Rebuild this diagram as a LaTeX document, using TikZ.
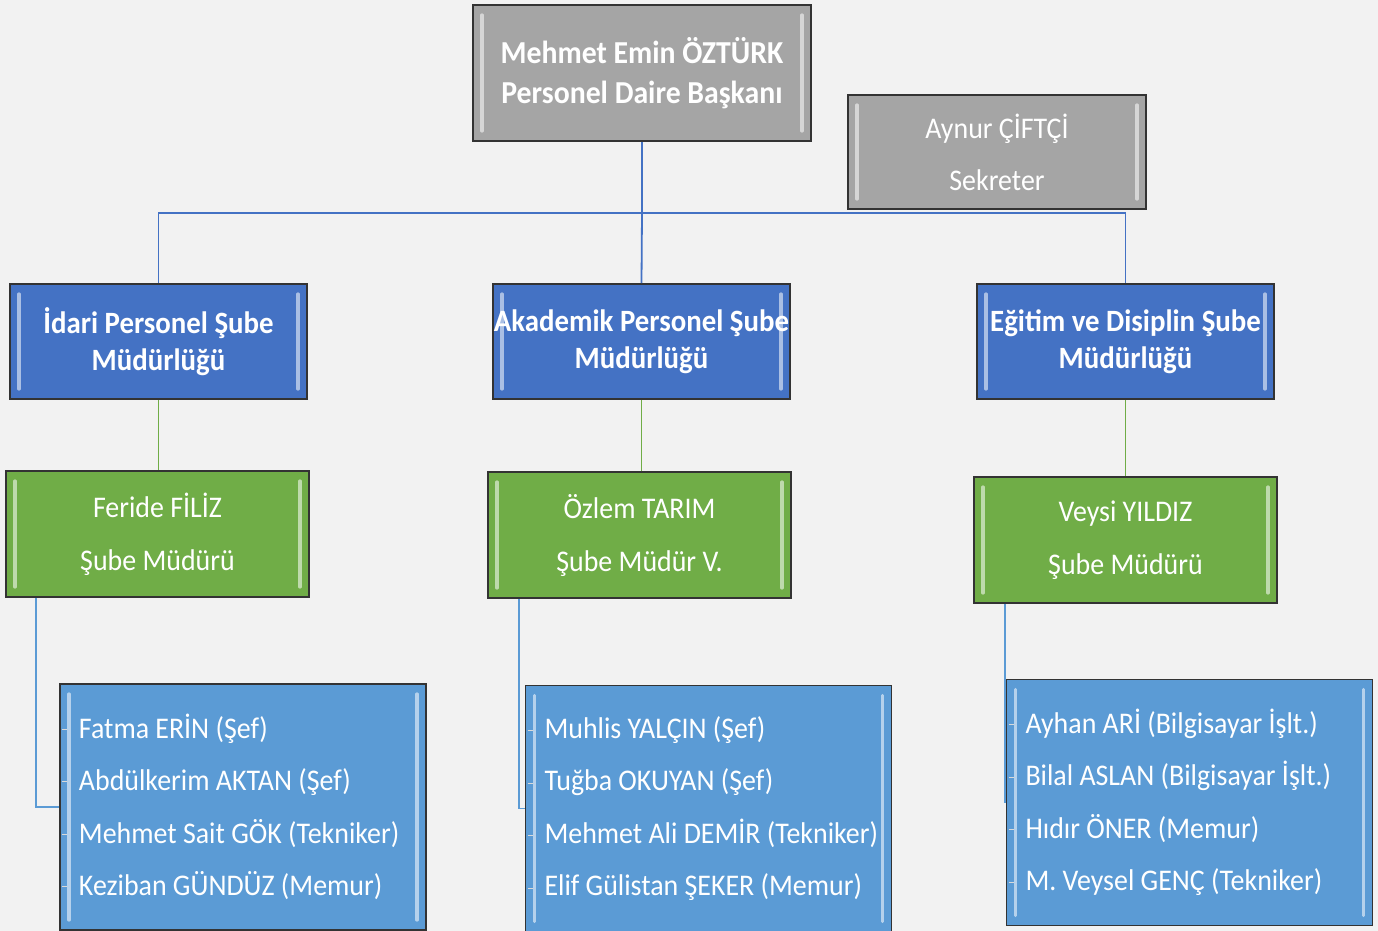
\documentclass[tikz,border=0pt]{standalone}
\usepackage{fontspec}
\setmainfont{Carlito}[FakeStretch=0.93]

\definecolor{zemin}{HTML}{F2F2F2}
\definecolor{gri}{HTML}{A5A5A5}
\definecolor{mavi}{HTML}{4472C4}
\definecolor{yesil}{HTML}{70AD47}
\definecolor{acikmavi}{HTML}{5B9BD5}

\begin{document}
\begin{tikzpicture}[x=0.5pt,y=-0.5pt,
  kutu/.style={draw=black!80,line width=0.9pt,inner sep=0pt,text=white,align=flush center,
    path picture={
      \draw[white,opacity=0.55,line width=1.6pt,line cap=round]
        ([xshift=4.5pt,yshift=-5pt]path picture bounding box.north west)
        -- ([xshift=4.5pt,yshift=5pt]path picture bounding box.south west);
      \draw[white,opacity=0.55,line width=1.6pt,line cap=round]
        ([xshift=-4.5pt,yshift=-5pt]path picture bounding box.north east)
        -- ([xshift=-4.5pt,yshift=5pt]path picture bounding box.south east);
    }},
  baskan/.style={kutu,fill=gri,minimum width=169pt,minimum height=68pt,
    font=\fontsize{16}{20}\selectfont\bfseries},
  sekr/.style={kutu,fill=gri,minimum width=149pt,minimum height=57pt,
    font=\fontsize{15}{26}\selectfont},
  sube/.style={kutu,fill=mavi,minimum width=148.5pt,minimum height=57.5pt,
    font=\fontsize{15.5}{18.5}\selectfont\bfseries},
  mudur/.style={kutu,fill=yesil,minimum width=151.5pt,minimum height=63pt,
    font=\fontsize{15}{26.5}\selectfont},
  liste/.style={kutu,fill=acikmavi,minimum width=183pt,minimum height=123pt,
    inner xsep=4pt,text width=175pt,align=flush left,
    execute at begin node={\leftskip=5.5pt},
    font=\fontsize{15}{26.25}\selectfont},
  bag/.style={line width=0.9pt},
  madde/.style={white!85!black,line width=0.6pt}
  ]
  \useasboundingbox[fill=zemin] (0,0) rectangle (1378,931);

  % ust kademe
  \node[baskan] (dbaskan) at (642,73) {Mehmet Emin ÖZTÜRK\\Personel Daire Başkanı};
  \node[sekr] (sekreter) at (997,152) {Aynur ÇİFTÇİ\\Sekreter};

  % sube mudurlukleri
  \node[sube] (idari) at (158.5,341.5) {İdari Personel Şube\\Müdürlüğü};
  \node[sube] (akademik) at (641.5,341.5) {Akademik Personel Şube\\Müdürlüğü};
  \node[sube] (egitim) at (1125.5,341.5) {Eğitim ve Disiplin Şube\\Müdürlüğü};

  \node[mudur] (filiz) at (157.5,534) {Feride FİLİZ\\Şube Müdürü};
  \node[mudur] (tarim) at (639.5,535) {Özlem TARIM\\Şube Müdür V.};
  \node[mudur] (yildiz) at (1125.5,540) {Veysi YILDIZ\\Şube Müdürü};

  % personel listeleri
  \node[liste] (listidari) at (243,807)
    {Fatma ERİN (Şef)\\Abdülkerim AKTAN (Şef)\\Mehmet Sait GÖK (Tekniker)\\Keziban GÜNDÜZ (Memur)};
  \node[liste] (listakademik) at (708.5,808.5)
    {Muhlis YALÇIN (Şef)\\Tuğba OKUYAN (Şef)\\Mehmet Ali DEMİR (Tekniker)\\Elif Gülistan ŞEKER (Memur)};
  \node[liste] (listegitim) at (1189.5,802.5)
    {Ayhan ARİ (Bilgisayar İşlt.)\\Bilal ASLAN (Bilgisayar İşlt.)\\Hıdır ÖNER (Memur)\\M. Veysel GENÇ (Tekniker)};

  \foreach \b in {listidari,listakademik,listegitim}
    \foreach \k in {0,...,3}
      \draw[madde] ([xshift=1.5pt,yshift={-23pt-26.25pt*\k}]\b.north west) -- ++(2.5pt,0);

  % baglantilar
  \coordinate (bus) at (642,213);
  \draw[bag,mavi] (dbaskan.south) -- (bus);
  \draw[bag,mavi] (idari.north) |- (bus) -| (egitim.north);
  \draw[bag,mavi] (bus) -- (akademik.north);

  \draw[bag,yesil] (idari.south) -- (idari.south |- filiz.north);
  \draw[bag,yesil] (akademik.south) -- (akademik.south |- tarim.north);
  \draw[bag,yesil] (egitim.south) -- (egitim.south |- yildiz.north);

  \draw[bag,acikmavi] ([xshift=15.5pt]filiz.south west) |- (listidari.west);
  \draw[bag,acikmavi] ([xshift=16pt]tarim.south west) |- (listakademik.west);
  \draw[bag,acikmavi] ([xshift=16pt]yildiz.south west) |- (listegitim.west);
\end{tikzpicture}
\end{document}
